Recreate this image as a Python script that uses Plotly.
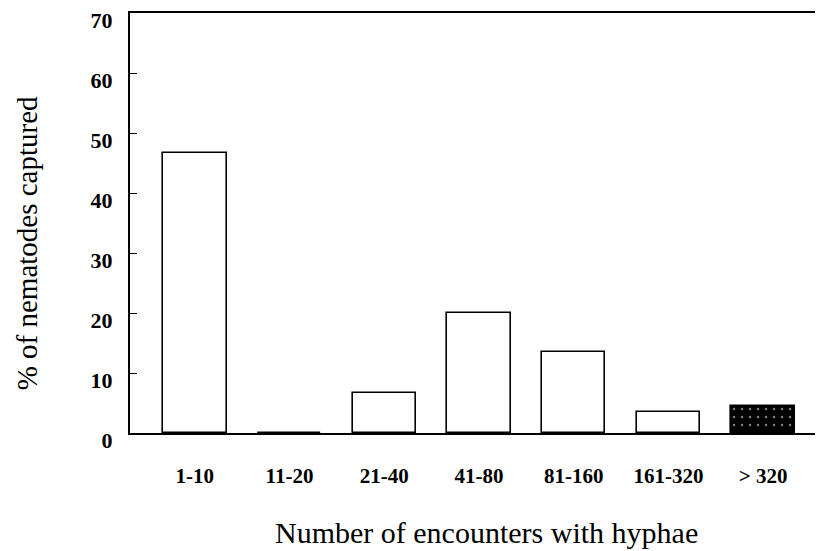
import plotly.graph_objects as go

# Data
categories = ["1-10", "11-20", "21-40", "41-80", "81-160", "161-320", "> 320"]
captured_pct = [46.7, 0, 6.7, 20.0, 13.5, 3.5, 4.5]
bar_fill = ["white", "white", "white", "white", "white", "white", "black"]
y_ticks = [0, 10, 20, 30, 40, 50, 60, 70]

serif = "Liberation Serif"

fig = go.Figure()

fig.add_trace(
    go.Bar(
        x=list(range(len(categories))),
        y=captured_pct,
        width=0.67,
        marker=dict(
            color=bar_fill,
            line=dict(color="black", width=1.6),
            pattern=dict(
                shape=["", "", "", "", "", "", "."],
                fgcolor="white",
                bgcolor="black",
                size=8,
                solidity=0.08,
            ),
        ),
        showlegend=False,
    )
)

fig.update_xaxes(
    range=[-0.684, 6.6],
    tickmode="array",
    tickvals=list(range(len(categories))),
    ticktext=categories,
    ticks="",
    showline=True,
    linecolor="black",
    linewidth=2,
    mirror=True,
    showgrid=False,
    zeroline=False,
    automargin=False,
    ticklabelstandoff=23,
    tickfont=dict(family=serif, size=21, color="black", weight="bold"),
)

fig.update_yaxes(
    range=[0, 70],
    tickmode="array",
    tickvals=y_ticks,
    ticks="inside",
    ticklen=7,
    tickcolor="black",
    showline=True,
    linecolor="black",
    linewidth=2,
    showgrid=False,
    zeroline=False,
    automargin=False,
    ticklabelstandoff=11,
    ticklabelshift=7,
    ticklabeloverflow="allow",
    tickfont=dict(family=serif, size=22, color="black", weight="bold"),
)

# axis titles placed as annotations to match their off-centre position
fig.add_annotation(
    text="% of nematodes captured",
    xref="paper", yref="paper",
    x=-0.149, y=0.452,
    xanchor="center", yanchor="middle",
    textangle=-90,
    showarrow=False,
    font=dict(family=serif, size=29, color="black"),
)
fig.add_annotation(
    text="Number of encounters with hyphae",
    xref="paper", yref="paper",
    x=0.516, y=-0.238,
    xanchor="center", yanchor="middle",
    showarrow=False,
    font=dict(family=serif, size=30, color="black"),
)

# the page body adds an 8px offset, so the figure is sized to fit inside it
fig.update_layout(
    width=815,
    height=543,
    margin=dict(l=122, r=3, t=5, b=118),
    plot_bgcolor="white",
    paper_bgcolor="white",
    bargap=0,
)

fig.write_html("out.html")
